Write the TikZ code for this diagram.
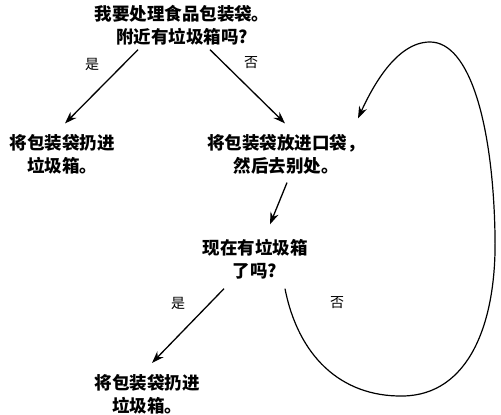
\documentclass[tikz,border=0pt]{standalone}
\usepackage{fontspec}
\setmainfont{Noto Sans CJK SC}
\usetikzlibrary{arrows.meta}
\tikzset{
  box/.style={align=center, inner sep=3pt, font=\fontsize{17.5}{23}\selectfont\bfseries},
  lbl/.style={font=\fontsize{14}{16}\selectfont, inner sep=0pt},
  arr/.style={line width=1.3pt, -{Stealth[length=12pt,width=8.5pt]}},
}
\begin{document}
\begin{tikzpicture}[x=1pt,y=-1pt]
\useasboundingbox (0,0) rectangle (501,415);
\node[box] (q1) at (182,25.5) {我要处理食品包装袋。\\附近有垃圾箱吗?};
\node[box] (a1) at (62,154.5) {将包装袋扔进\\垃圾箱。};
\node[box] (a2) at (286,154.5) {将包装袋放进口袋，\\然后去别处。};
\node[box] (q2) at (255,259.5) {现在有垃圾箱\\了吗?};
\node[box] (a3) at (147,394) {将包装袋扔进\\垃圾箱。};

\draw[arr] ([xshift=-44pt,yshift=-1pt]q1.south) -- ([xshift=3pt,yshift=8pt]a1.north);
\draw[arr] ([xshift=28pt,yshift=-1pt]q1.south) -- ([xshift=-1pt,yshift=8pt]a2.north);
\draw[arr] ([xshift=1pt,yshift=-5pt]a2.south) -- ([xshift=15pt,yshift=12pt]q2.north);
\draw[arr] ([xshift=-31pt,yshift=-6pt]q2.south) -- ([xshift=5pt,yshift=8pt]a3.north);
\draw[arr, line width=1.2pt] ([xshift=30pt,yshift=-6pt]q2.south)
  .. controls (298,355) and (340,397) .. (403,396)
  .. controls (468,395) and (497,325) .. (495,235)
  .. controls (493,125) and (470,42) .. (430,42)
  .. controls (396,42) and (372,88) .. ([xshift=72pt,yshift=13pt]a2.north);

\node[lbl] (y1) at (92,64) {是};
\node[lbl] (n1) at (251,63) {否};
\node[lbl] (y2) at (178,303) {是};
\node[lbl] (n2) at (337,303) {否};
\end{tikzpicture}
\end{document}
